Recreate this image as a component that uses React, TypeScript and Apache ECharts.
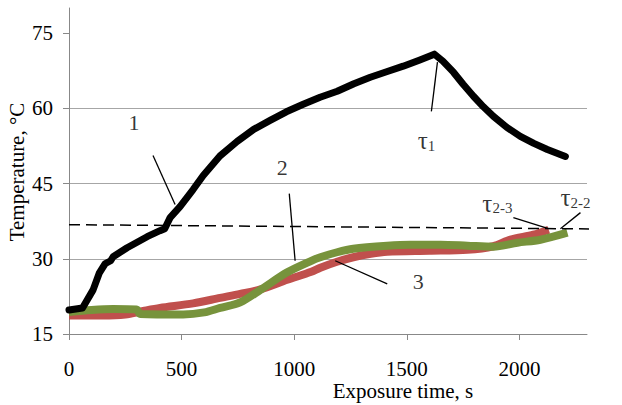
import React, { useEffect, useRef } from "react";
import * as echarts from "echarts";

const xTicks = [0, 500, 1000, 1500, 2000];
const yTicks = [15, 30, 45, 60, 75];

const curve1: number[][] = [
  [0, 19.8], [60, 20.2], [107, 23.8], [135, 27.2], [160, 29.0], [185, 29.6], [196, 30.4],
  [258, 32.2], [347, 34.4], [404, 35.6], [425, 36.0], [449, 38.2], [493, 40.4], [551, 43.8],
  [596, 46.6], [670, 50.5], [747, 53.4], [820, 55.8], [893, 57.6], [965, 59.3], [1040, 60.8],
  [1115, 62.2], [1191, 63.4], [1265, 64.9], [1338, 66.2], [1410, 67.3], [1484, 68.4],
  [1555, 69.6], [1622, 70.8], [1660, 69.4], [1707, 67.2], [1750, 64.8], [1796, 62.4],
  [1840, 60.3], [1884, 58.4], [1944, 56.2], [2004, 54.4], [2064, 53.0], [2124, 51.8], [2204, 50.4]
];

const curve2: number[][] = [
  [0, 18.7], [150, 18.7], [250, 18.9], [330, 19.6], [404, 20.2], [551, 21.1], [671, 22.2],
  [760, 23.0], [850, 23.9], [969, 25.8], [1076, 27.4], [1116, 28.2], [1190, 29.4], [1262, 30.3],
  [1340, 31.0], [1413, 31.4], [1600, 31.6], [1769, 31.8], [1884, 32.5], [1960, 33.8],
  [2062, 34.8], [2130, 35.8]
];

const curve3: number[][] = [
  [0, 19.4], [100, 19.8], [196, 20.0], [300, 19.9], [316, 19.0], [507, 18.9], [600, 19.3],
  [671, 20.2], [760, 21.3], [850, 23.8], [969, 27.3], [1076, 29.6], [1116, 30.3], [1190, 31.3],
  [1262, 32.0], [1413, 32.6], [1516, 32.8], [1650, 32.8], [1769, 32.6], [1884, 32.4],
  [1991, 33.2], [2093, 33.8], [2213, 35.2]
];

const thresholdLine: number[][] = [[0, 36.8], [2458, 35.9]];

const leaderLines: number[][][] = [
  [[373, 50.6], [471, 40.8]],
  [[978, 43.0], [1004, 29.6]],
  [[1182, 29.6], [1413, 25.0]],
  [[1636, 69.2], [1609, 59.4]],
  [[1973, 38.2], [2129, 36.0]],
  [[2182, 36.0], [2271, 39.2]]
];

const noteTexts = ["{t|1}", "{t|2}", "{t|3}", "{g|τ}{s|1}", "{g|τ}{s|2-3}", "{g|τ}{s|2-2}"];
const notePositions: number[][] = [
  [289, 57.0], [947, 48.0], [1551, 25.2], [1587, 53.6], [1902, 41.2], [2249, 42.3]
];

const FONT = "Liberation Serif";

export default function App() {
  const ref = useRef<HTMLDivElement>(null);
  useEffect(() => {
    if (!ref.current) return;
    const chart = echarts.init(ref.current, undefined, { renderer: "svg" });
    chart.setOption({
      animation: false,
      backgroundColor: "#fff",
      textStyle: { fontFamily: FONT },
      grid: { left: 69, right: 35, top: 8, bottom: 71 },
      xAxis: {
        type: "value",
        min: 0,
        max: 2300,
        interval: 500,
        axisLine: { show: true, lineStyle: { color: "#888", width: 1 } },
        axisTick: { show: true, length: 6, customValues: xTicks, lineStyle: { color: "#888" } },
        axisLabel: {
          customValues: xTicks,
          formatter: (v: number) => (v % 500 === 0 ? String(v) : ""),
          fontFamily: FONT, fontSize: 21, color: "#000", margin: 24
        },
        splitLine: { show: false }
      },
      yAxis: {
        type: "value",
        min: 15,
        max: 80,
        interval: 15,
        axisLine: { show: true, lineStyle: { color: "#888", width: 1 } },
        axisTick: { show: true, length: 6, customValues: yTicks, lineStyle: { color: "#888" } },
        axisLabel: {
          customValues: yTicks,
          formatter: (v: number) => ((v - 15) % 15 === 0 && v <= 75 ? String(v) : ""),
          fontFamily: FONT, fontSize: 21, color: "#000", margin: 16
        },
        splitLine: { show: true, showMaxLine: false, showMinLine: false, lineStyle: { color: "#a6a6a6", width: 1 } }
      },
      series: [
        {
          type: "line", name: "2", data: curve2, symbol: "none", smooth: 0.3,
          lineStyle: { color: "#C0504D", width: 8 }, z: 2
        },
        {
          type: "line", name: "3", data: curve3, symbol: "none", smooth: 0.3,
          lineStyle: { color: "#77933C", width: 8 }, z: 3
        },
        {
          type: "line", name: "1", data: curve1, symbol: "none",
          lineStyle: { color: "#000", width: 7, join: "round", cap: "round" }, z: 4
        },
        {
          type: "line", name: "threshold", data: thresholdLine, symbol: "none", clip: false,
          lineStyle: { color: "#000", width: 1.5, type: [11, 6] }, z: 5
        },
        {
          type: "lines", coordinateSystem: "cartesian2d", z: 6,
          data: leaderLines.map((c) => ({ coords: c })),
          lineStyle: { color: "#000", width: 1.3, opacity: 1 },
          symbol: "none"
        },
        {
          type: "scatter", symbolSize: 0, z: 7, clip: false,
          data: notePositions.map((p, i) => ({
            value: p,
            label: {
              show: true,
              position: "inside",
              formatter: noteTexts[i],
              color: "#000",
              textBorderWidth: 0,
              fontFamily: FONT,
              fontSize: 21,
              rich: {
                t: { fontFamily: FONT, fontSize: 22, color: "#000", verticalAlign: "top", lineHeight: 24, textBorderWidth: 0 },
                g: { fontFamily: FONT, fontSize: 25, color: "#000", verticalAlign: "top", lineHeight: 24, textBorderWidth: 0 },
                s: { fontFamily: FONT, fontSize: 15, color: "#000", verticalAlign: "top", padding: [10, 0, 0, 0], lineHeight: 16, textBorderWidth: 0 }
              }
            }
          }))
        }
      ],
      graphic: [
        {
          type: "text", x: 17, y: 172, rotation: Math.PI / 2,
          style: { text: "Temperature, °C", font: `21px ${FONT}`, fill: "#000", align: "center", verticalAlign: "middle" }
        },
        {
          type: "text", x: 403, y: 391,
          style: { text: "Exposure time, s", font: `21px ${FONT}`, fill: "#000", align: "center", verticalAlign: "middle" }
        }
      ]
    });
    return () => chart.dispose();
  }, []);
  return <div ref={ref} style={{ width: 622, height: 405, position: "absolute", left: 0, top: 0 }} />;
}
